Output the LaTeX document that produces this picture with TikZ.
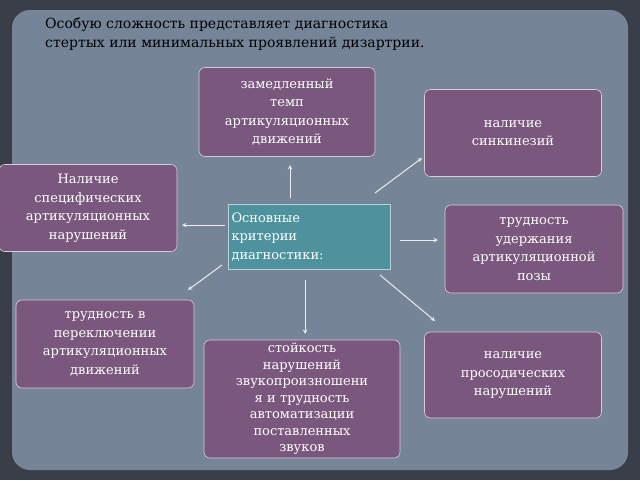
\documentclass[tikz,border=0pt]{standalone}
\usepackage{fontspec}
\setmainfont{DejaVu Serif}
\definecolor{bgdark}{RGB}{58,62,72}
\definecolor{bgmain}{RGB}{118,132,152}
\definecolor{boxpurple}{RGB}{122,88,126}
\definecolor{boxteal}{RGB}{78,146,158}
\tikzset{
  crit/.style={rectangle,rounded corners=6pt,draw=white!70!boxpurple,line width=0.6pt,
    fill=boxpurple,text=white,align=center,font=\fontsize{13}{18.5}\selectfont,inner sep=2pt},
  arr/.style={->,>=stealth,white!85!gray,line width=1pt}
}
\begin{document}
\begin{tikzpicture}[x=1pt,y=-1pt]
  \useasboundingbox (0,0) rectangle (640,480);
  \fill[bgdark] (0,0) rectangle (640,480);
  \fill[bgmain,rounded corners=18pt] (12,10) rectangle (628,470);
  \node[anchor=north west,align=left,font=\fontsize{14}{19}\selectfont,inner sep=0pt] (title) at (45,17)
       {Особую сложность представляет диагностика\\стертых или минимальных проявлений дизартрии.};

  \node[crit,minimum width=175pt,minimum height=89pt,text width=172pt] (tempo) at (287,112)
       {замедленный\\темп\\артикуляционных\\движений};
  \node[crit,minimum width=177pt,minimum height=87pt,text width=172pt] (sink) at (513,133)
       {наличие\\синкинезий};
  \node[crit,minimum width=177pt,minimum height=87pt,text width=174pt] (spec) at (88,208)
       {Наличие\\специфических\\артикуляционных\\нарушений};
  \node[crit,fill=boxteal,rounded corners=0pt,draw=white!60!boxteal,minimum width=162pt,minimum height=65pt,
        text width=155pt,align=left] (main) at (309,237)
       {Основные\\критерии\\диагностики:};
  \node[crit,minimum width=175pt,minimum height=88pt,text width=174pt] (poza) at (534,249)
       {трудность\\удержания\\артикуляционной\\позы};
  \node[crit,minimum width=175pt,minimum height=88pt,text width=174pt] (perekl) at (105,344)
       {трудность в\\переключении\\артикуляционных\\движений};
  \node[crit,minimum width=177pt,minimum height=86pt,text width=172pt] (proso) at (513,375)
       {наличие\\просодических\\нарушений};
  \node[crit,minimum width=195pt,minimum height=118pt,text width=192pt,
        font=\fontsize{13}{16.5}\selectfont] (stoik) at (302,399)
       {стойкость\\нарушений\\звукопроизношени\\я и трудность\\автоматизации\\поставленных\\звуков};

  % arrows from the centre
  \coordinate (a1) at (290,198); \coordinate (b1) at (290,165);
  \coordinate (a2) at (375,193); \coordinate (b2) at (422,158);
  \coordinate (a3) at (225,225); \coordinate (b3) at (182,225);
  \coordinate (a4) at (400,240); \coordinate (b4) at (438,240);
  \coordinate (a5) at (222,265); \coordinate (b5) at (188,290);
  \coordinate (a6) at (305,280); \coordinate (b6) at (305,334);
  \coordinate (a7) at (380,275); \coordinate (b7) at (435,321);
  \foreach \i in {1,...,7}
    \draw[arr] (a\i) -- (b\i);
\end{tikzpicture}
\end{document}
